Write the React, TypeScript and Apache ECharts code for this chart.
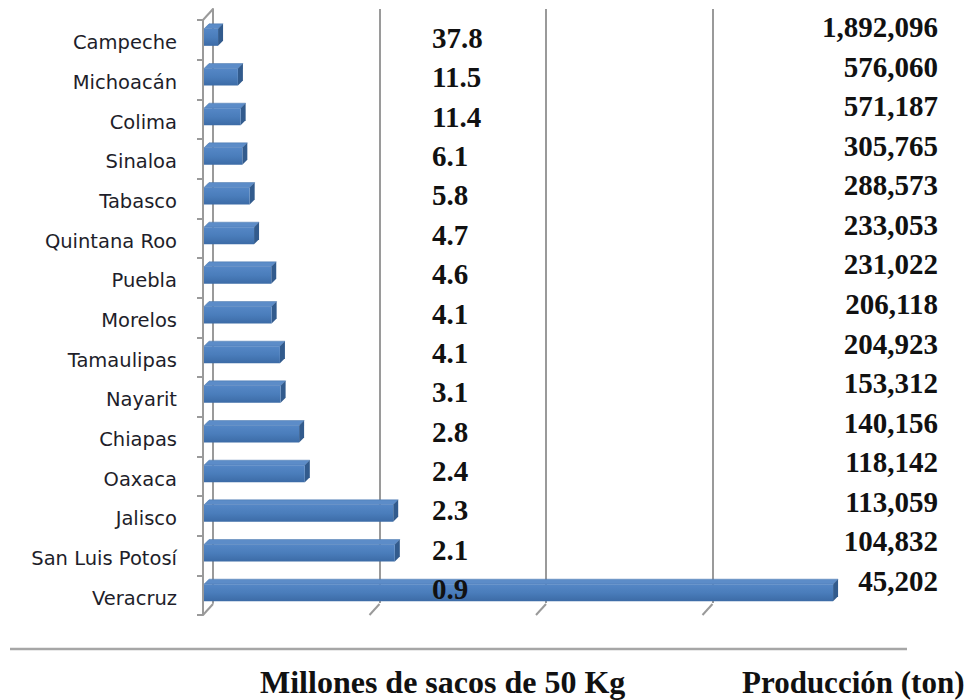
import React, { useEffect, useRef } from "react";
import * as echarts from "echarts";

// ---- data ----
const categories = [
  "Campeche", "Michoacán", "Colima", "Sinaloa", "Tabasco", "Quintana Roo", "Puebla",
  "Morelos", "Tamaulipas", "Nayarit", "Chiapas", "Oaxaca", "Jalisco", "San Luis Potosí", "Veracruz",
];
// bar lengths as drawn (tons)
const barValues = [
  45202, 104832, 113059, 118142, 140156, 153312, 204923,
  206118, 231022, 233053, 288573, 305765, 571187, 576060, 1892096,
];
// text columns, top to bottom as printed
const millionLabels = ["37.8", "11.5", "11.4", "6.1", "5.8", "4.7", "4.6", "4.1", "4.1", "3.1", "2.8", "2.4", "2.3", "2.1", "0.9"];
const productionLabels = [
  "1,892,096", "576,060", "571,187", "305,765", "288,573", "233,053", "231,022",
  "206,118", "204,923", "153,312", "140,156", "118,142", "113,059", "104,832", "45,202",
];
const floorTicks = [0, 500000, 1000000, 1500000];
const titleSacks = "Millones de sacos de 50 Kg";
const titleProd = "Producción (ton)";

const GRAY = "#9a9a9a";
const SERIF = "'Liberation Serif', 'DejaVu Serif', serif";
const SANS = "'DejaVu Sans', 'Open Sans', sans-serif";

export default function App() {
  const ref = useRef<HTMLDivElement>(null);
  useEffect(() => {
    if (!ref.current) return;
    const chart = echarts.init(ref.current, null, { renderer: "svg" });
    const DX = 10, DY = 11;
    const option: any = {
      animation: false,
      backgroundColor: "#ffffff",
      grid: [
        { left: 203, top: 20, width: 666, height: 595 },         // front plane
        { left: 213, top: 9, width: 499.5, height: 594 },        // back wall
        { left: 432, top: 18.3, width: 1, height: 590.4 },       // million column
        { left: 937, top: 7.2, width: 1, height: 593.6 },        // production column
        { left: 203, top: 23, width: 1, height: 595 },           // category labels
      ],
      xAxis: [
        { gridIndex: 0, type: "value", min: 0, max: 2000000, show: false },
        {
          gridIndex: 1, type: "value", min: 0, max: 1500000, interval: 500000,
          axisLine: { show: false }, axisTick: { show: false }, axisLabel: { show: false },
          splitLine: { show: true, lineStyle: { color: GRAY, width: 2 } },
        },
        { gridIndex: 2, type: "value", show: false },
        { gridIndex: 3, type: "value", show: false },
        { gridIndex: 4, type: "value", show: false },
      ],
      yAxis: [
        {
          gridIndex: 0, type: "category", data: categories, inverse: true,
          axisLine: { show: true, lineStyle: { color: GRAY, width: 2 } },
          axisTick: { show: true, length: 6, lineStyle: { color: GRAY, width: 2 } },
          axisLabel: { show: false },
          splitLine: { show: false },
        },
        {
          gridIndex: 1, type: "category", data: categories, inverse: true,
          axisLine: { show: true, lineStyle: { color: GRAY, width: 2 } },
          axisTick: { show: false }, axisLabel: { show: false }, splitLine: { show: false },
        },
        {
          gridIndex: 2, type: "category", data: millionLabels, inverse: true, position: "left", z: 20,
          axisLine: { show: false }, axisTick: { show: false }, splitLine: { show: false },
          axisLabel: { inside: true, margin: 0, fontFamily: SERIF, fontWeight: "bold", fontSize: 29, color: "#111111" },
        },
        {
          gridIndex: 3, type: "category", data: productionLabels, inverse: true, position: "right", z: 20,
          axisLine: { show: false }, axisTick: { show: false }, splitLine: { show: false },
          axisLabel: { inside: true, margin: 0, fontFamily: SERIF, fontWeight: "bold", fontSize: 29, color: "#111111" },
        },
        {
          gridIndex: 4, type: "category", data: categories, inverse: true, position: "left",
          axisLine: { show: false }, axisTick: { show: false }, splitLine: { show: false },
          axisLabel: { margin: 26, fontFamily: SANS, fontSize: 19.5, color: "#1e1e2a" },
        },
      ],
      series: [
        {
          type: "custom",
          name: "edges",
          xAxisIndex: 0, yAxisIndex: 0,
          z: 1,
          data: floorTicks.map((v) => [v, 0]),
          encode: { x: 0, y: 1 },
          renderItem: (params: any, api: any) => {
            const cs = params.coordSys;
            const v = api.value(0);
            const x = api.coord([v, 0])[0];
            const bottom = cs.y + cs.height;
            const children: any[] = [
              { type: "line", shape: { x1: x, y1: bottom, x2: x + DX, y2: bottom - DY }, style: { stroke: GRAY, lineWidth: 2 } },
            ];
            if (v === 0) {
              children.push({ type: "line", shape: { x1: x, y1: cs.y, x2: x + DX, y2: cs.y - DY }, style: { stroke: GRAY, lineWidth: 2 } });
            }
            return { type: "group", children };
          },
        },
        {
          type: "custom",
          name: "Producción",
          xAxisIndex: 0, yAxisIndex: 0,
          z: 5,
          data: barValues.map((v, i) => [v, i]),
          encode: { x: 0, y: 1 },
          renderItem: (params: any, api: any) => {
            const v = api.value(0);
            const idx = api.value(1);
            const p0 = api.coord([0, idx]);
            const p1 = api.coord([v, idx]);
            const c = p0[1];
            const x0 = p0[0] + 1;
            const x1 = p1[0];
            const top = c - 11, bot = c + 6, dx = 5, dy = 5;
            return {
              type: "group",
              children: [
                {
                  type: "polygon",
                  shape: { points: [[x0, top], [x0 + dx, top - dy], [x1 + dx, top - dy], [x1, top]] },
                  style: { fill: "#5c8cc8", stroke: "#4774ab", lineWidth: 0.5 },
                },
                {
                  type: "polygon",
                  shape: { points: [[x1, top], [x1 + dx, top - dy], [x1 + dx, bot - dy], [x1, bot]] },
                  style: { fill: "#325b8d" },
                },
                {
                  type: "rect",
                  shape: { x: x0, y: top, width: x1 - x0, height: bot - top },
                  style: {
                    fill: new echarts.graphic.LinearGradient(0, 0, 0, 1, [
                      { offset: 0, color: "#5587c6" },
                      { offset: 0.5, color: "#4a7dbb" },
                      { offset: 1, color: "#3c6ba6" },
                    ]),
                  },
                },
              ],
            };
          },
        },
      ],
      graphic: [
        { type: "line", shape: { x1: 10, y1: 649, x2: 907, y2: 649 }, style: { stroke: "#a6a6a6", lineWidth: 2.5 } },
        {
          type: "text", x: 260, y: 682,
          style: { text: titleSacks, font: `bold 32px ${SERIF}`, fill: "#111111", verticalAlign: "middle", align: "left" },
        },
        {
          type: "text", x: 742, y: 682,
          style: { text: titleProd, font: `bold 31px ${SERIF}`, fill: "#111111", verticalAlign: "middle", align: "left" },
        },
      ],
    };
    chart.setOption(option);
    return () => chart.dispose();
  }, []);
  return (
    <div
      ref={ref}
      style={{ position: "fixed", left: 0, top: 0, width: 969, height: 700, background: "#fff" }}
    />
  );
}
